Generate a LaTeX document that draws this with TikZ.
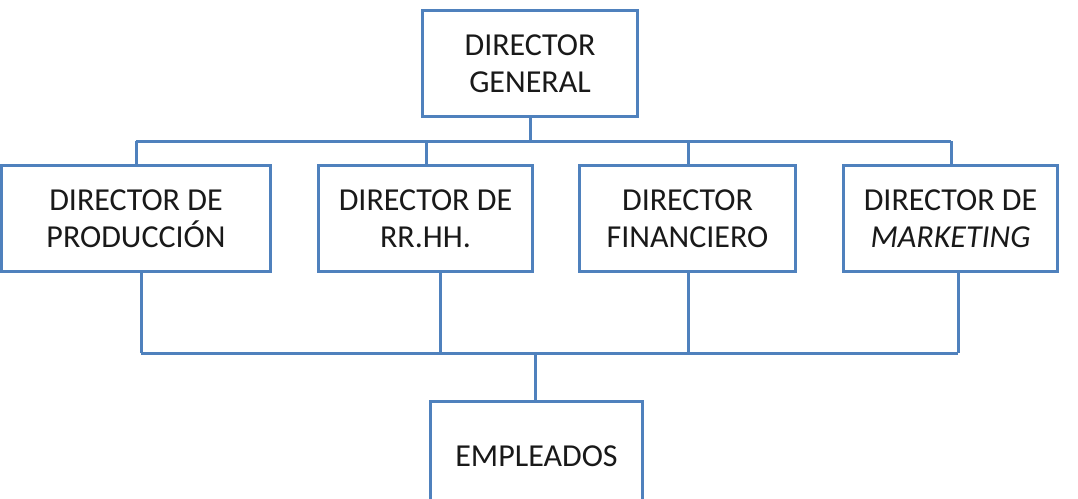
\documentclass[tikz,border=0pt]{standalone}
\usepackage{fontspec}
\setmainfont{Carlito}
\definecolor{boxblue}{RGB}{79,129,189}
\tikzset{
  orgbox/.style={draw=boxblue, line width=3pt, fill=white, rectangle, align=center,
    inner sep=0pt, font=\fontsize{32}{37}\selectfont, text=black!90},
  conn/.style={draw=boxblue, line width=3pt}
}
\begin{document}
\begin{tikzpicture}[x=1pt,y=-1pt]
\useasboundingbox (0,0) rectangle (1078,498);
\fill[white] (0,0) rectangle (1078,498);
% nodes
\node[orgbox, minimum width=215pt, minimum height=106pt] (dg) at (530,63.5) {DIRECTOR\\GENERAL};
\node[orgbox, minimum width=269pt, minimum height=106pt] (dp) at (136,218.5) {DIRECTOR DE\\PRODUCCIÓN};
\node[orgbox, minimum width=214pt, minimum height=106pt] (dr) at (425.5,218.5) {DIRECTOR DE\\RR.HH.};
\node[orgbox, minimum width=216pt, minimum height=106pt] (df) at (687.5,218.5) {DIRECTOR\\FINANCIERO};
\node[orgbox, minimum width=214pt, minimum height=106pt] (dm) at (950.5,218.5) {DIRECTOR DE\\\textit{MARKETING}};
\node[orgbox, minimum width=212pt, minimum height=140pt, anchor=north] (em) at (536.5,400) {};
\node[font=\fontsize{32}{37}\selectfont, text=black!90] (emt) at (536.5,456) {EMPLEADOS};
% coordinates
\coordinate (tb) at (530,141);
\coordinate (bb) at (535,353);
% upper connectors
\draw[conn] (dg.south) -- (tb);
\draw[conn] (136,141) -- (951,141);
\draw[conn] (dp.north -| 136,0) -- (136,141);
\draw[conn] (dr.north -| 426,0) -- (426,141);
\draw[conn] (df.north -| 688,0) -- (688,141);
\draw[conn] (dm.north -| 951,0) -- (951,141);
% lower connectors
\draw[conn] (dp.south -| 141,0) -- (141,353);
\draw[conn] (dr.south -| 440,0) -- (440,353);
\draw[conn] (df.south -| 688,0) -- (688,353);
\draw[conn] (dm.south -| 958,0) -- (958,353);
\draw[conn] (141,353) -- (958,353);
\draw[conn] (bb) -- (em.north -| bb);
\end{tikzpicture}
\end{document}
